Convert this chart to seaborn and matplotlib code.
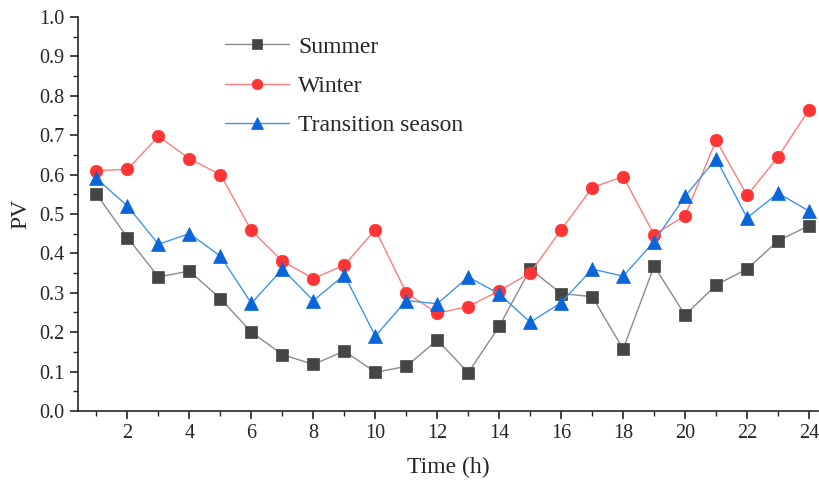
import pandas as pd
import matplotlib.pyplot as plt
import seaborn as sns
from matplotlib.ticker import MultipleLocator

# data
hours = list(range(1, 25))
summer = [0.55, 0.44, 0.34, 0.355, 0.285, 0.20, 0.143, 0.118, 0.152, 0.098, 0.113, 0.18,
          0.097, 0.215, 0.36, 0.298, 0.29, 0.157, 0.368, 0.243, 0.32, 0.36, 0.432, 0.47]
winter = [0.61, 0.613, 0.697, 0.64, 0.60, 0.458, 0.38, 0.336, 0.37, 0.46, 0.30, 0.248,
          0.265, 0.305, 0.35, 0.46, 0.567, 0.595, 0.447, 0.496, 0.687, 0.547, 0.645, 0.765]
transition = [0.59, 0.52, 0.423, 0.45, 0.393, 0.273, 0.36, 0.28, 0.345, 0.19, 0.28, 0.272,
              0.34, 0.297, 0.225, 0.275, 0.36, 0.342, 0.43, 0.545, 0.64, 0.49, 0.553, 0.507]

df = pd.DataFrame({"hour": hours, "Summer": summer, "Winter": winter,
                   "Transition season": transition})

sns.set_style("ticks")
plt.rcParams["font.family"] = ["Liberation Serif", "DejaVu Serif"]

fig = plt.figure(figsize=(8.2, 4.84), dpi=100)
ax = fig.add_axes([0.095, 0.151, 0.903, 0.814])

# (series, line colour, marker colour, marker, size)
styles = [
    ("Summer", "#8a8a8a", "#454545", "s", 8),
    ("Winter", "#ff7c7c", "#ff3535", "o", 9),
    ("Transition season", "#3f95ea", "#0a66d8", "^", 10),
]
for name, lc, mc, mk, ms in styles:
    sns.lineplot(data=df, x="hour", y=name, ax=ax, color=lc, lw=1.0,
                 marker=mk, markersize=ms, markerfacecolor=mc,
                 markeredgecolor=mc, markeredgewidth=0.5, label=name)

ax.set_xlim(0.4, 24.3)
ax.set_ylim(0, 1.0)
ax.xaxis.set_major_locator(MultipleLocator(2))
ax.xaxis.set_minor_locator(MultipleLocator(1))
ax.yaxis.set_major_locator(MultipleLocator(0.1))
ax.yaxis.set_minor_locator(MultipleLocator(0.05))
ax.set_xticks(range(2, 25, 2))
ax.yaxis.set_major_formatter(plt.FormatStrFormatter("%.1f"))
ax.tick_params(which="major", length=6, width=1.2, labelsize=14.5, direction="out")
ax.tick_params(which="minor", length=3.5, width=1.0, direction="out")
for sp in ["top", "right"]:
    ax.spines[sp].set_visible(False)
for sp in ["left", "bottom"]:
    ax.spines[sp].set_linewidth(1.2)

ax.set_xlabel("Time (h)", fontsize=17, labelpad=10)
ax.set_ylabel("PV", fontsize=17, labelpad=6)

leg = ax.legend(loc="upper left", bbox_to_anchor=(0.17, 1.005), frameon=False,
                fontsize=17, handlelength=2.7, labelspacing=0.75, handletextpad=0.4,
                markerscale=0.85)

plt.savefig("out.png", dpi=100)
plt.close()
